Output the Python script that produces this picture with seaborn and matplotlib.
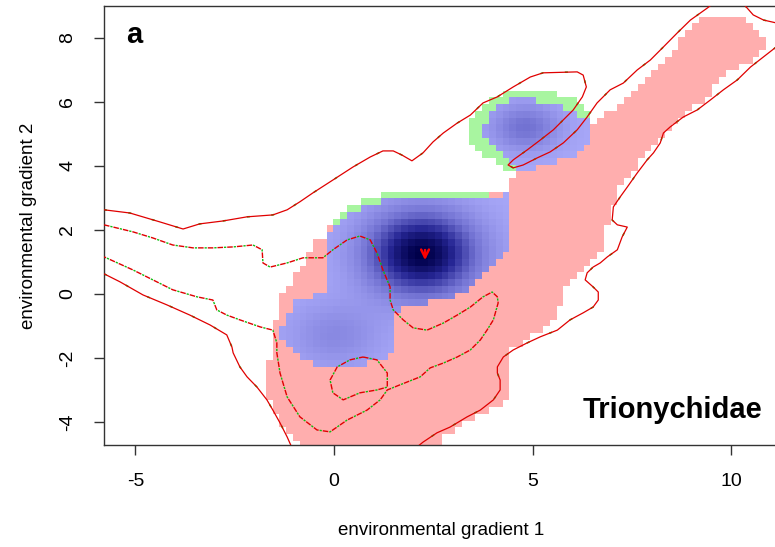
import numpy as np
import pandas as pd
import matplotlib
matplotlib.use("Agg")
import matplotlib.pyplot as plt
from matplotlib.path import Path
from matplotlib.colors import LinearSegmentedColormap, to_rgb
import seaborn as sns

# ---- niche rasters (outlines, data units) ----
pink_x = [-0.86, -1.18, -1.54, -1.69, -1.69, -1.54, -1.36, -1.18, -0.86, -0.53, -0.18, -0.03, 0.28, 1.66,
          3.68, 4.43, 4.43, 4.76, 5.62, 6.12, 6.45, 6.57, 6.95, 7.46, 7.88, 8.39, 8.79, 9.14, 10.23, 10.60,
          10.78, 10.78, 10.40, 9.80, 9.40, 8.89, 8.29, 7.78, 7.20, 6.83, 6.78, 6.32, 5.77, 5.62, 4.94, 4.48,
          4.48, 4.11, 3.43, 2.75, 2.67]
pink_y = [-4.75, -4.34, -3.72, -3.22, -2.28, -1.44, -0.09, 0.22, 0.75, 1.53, 1.91, 2.16, 2.56, 3.00,
          3.16, 3.25, 3.56, 3.81, 4.09, 4.50, 4.97, 5.50, 5.66, 6.16, 6.69, 7.31, 8.03, 8.56, 8.56, 8.31,
          8.09, 7.53, 7.22, 6.78, 6.16, 5.66, 5.03, 4.28, 3.34, 2.00, 1.38, 0.75, 0.22, -0.81, -1.38, -1.75,
          -3.09, -3.53, -3.94, -4.47, -4.75]

green1_x = [-0.15, -0.03, 0.15, 0.48, 0.83, 1.21, 1.71, 2.67, 3.93, 3.98, 2.67, 1.16, 0.28]
green1_y = [1.75, 2.19, 2.50, 2.72, 2.94, 3.09, 3.22, 3.22, 3.25, 2.90, 2.78, 2.63, 2.16]

green2_x = [3.43, 3.43, 3.68, 3.93, 4.61, 5.26, 5.77, 6.12, 6.27, 6.45, 6.50, 6.32, 6.12, 4.76, 4.51,
            4.26, 3.93, 3.68]
green2_y = [4.59, 5.44, 5.84, 6.06, 6.38, 6.38, 6.16, 5.97, 5.75, 5.53, 4.81, 4.72, 4.34, 3.81, 3.81,
            3.88, 4.19, 4.41]

blue1_x = [-0.18, 0.03, 0.28, 0.65, 1.03, 1.66, 2.67, 3.93, 4.43, 4.43, 4.26, 3.93, 3.43, 3.10, 2.42,
           1.66, 1.49, 1.49, 1.34, 0.65, -0.53, -0.68, -1.03, -1.18, -1.36, -1.36, -1.18, -1.03, -0.68,
           -0.18]
blue1_y = [1.81, 2.19, 2.50, 2.69, 2.84, 3.00, 3.00, 3.02, 3.10, 1.38, 1.28, 0.75, 0.28, -0.09, -0.25,
           -0.44, -0.59, -1.84, -1.97, -2.28, -2.28, -2.06, -1.84, -1.66, -1.22, -1.03, -0.72, -0.28,
           -0.19, 0.13]

blue2_x = [3.75, 3.75, 3.93, 4.26, 4.61, 5.26, 5.62, 5.94, 6.12, 6.50, 6.50, 6.32, 6.12, 5.77, 5.52,
           5.19, 4.76, 4.43, 4.11, 3.93]
blue2_y = [5.03, 5.19, 5.75, 5.97, 6.06, 6.00, 5.84, 5.75, 5.53, 5.50, 4.81, 4.72, 4.34, 4.19, 4.09,
           3.97, 3.81, 4.09, 4.50, 4.59]

# density peaks of the stable part (centre, spread, height)
peak_x = [2.20, 0.03, 4.81]
peak_y = [1.25, -1.28, 5.19]
peak_sx = [0.95, 0.80, 0.60]
peak_sy = [0.90, 0.70, 0.50]
peak_h = [1.00, 0.20, 0.35]

# ---- contour lines ----
s1_x = [-5.79, -5.14, -4.38, -3.80, -3.38, -2.80, -2.19, -1.54, -1.18, -0.86, -0.53, -0.03, 0.48, 0.91,
        1.23, 1.49, 1.71, 1.96, 2.24, 2.49, 2.75, 3.10, 3.43, 3.75, 4.11, 4.51, 4.94, 5.26, 6.12, 6.27,
        6.35, 6.25, 6.02, 5.77, 5.52, 5.19, 4.86, 4.51, 4.38, 4.51, 4.76, 5.11, 5.44, 5.77, 6.12, 6.37,
        6.62, 6.95, 7.28, 7.63, 7.96, 8.29, 8.64, 8.97, 9.40, 9.52]
s1_y = [2.63, 2.53, 2.25, 2.03, 2.19, 2.28, 2.41, 2.47, 2.63, 2.88, 3.16, 3.56, 3.97, 4.28,
        4.47, 4.47, 4.34, 4.16, 4.41, 4.75, 5.03, 5.34, 5.59, 5.97, 6.16, 6.47, 6.78, 6.91, 6.94, 6.84,
        6.47, 6.16, 5.75, 5.44, 5.13, 4.81, 4.50, 4.19, 4.03, 3.94, 4.03, 4.25, 4.44, 4.72, 5.13, 5.53,
        5.97, 6.38, 6.59, 7.00, 7.31, 7.72, 8.16, 8.56, 8.94, 9.06]
s2_x = [10.33, 10.55, 10.81, 11.13, 11.30]
s2_y = [9.03, 8.72, 8.56, 8.47, 8.44]
s3_x = [11.30, 11.13, 10.81, 10.48, 10.15, 9.80, 9.47, 9.14, 8.79, 8.46, 8.29, 8.21, 8.04, 7.88, 7.63,
        7.38, 7.20, 7.03, 7.00, 7.13, 7.38, 7.25, 7.13, 6.88, 6.70, 6.52, 6.37, 6.32, 6.52, 6.65, 6.65,
        6.52, 6.27, 5.94, 5.62, 5.19, 4.86, 4.51, 4.26, 4.11, 4.11, 4.18, 4.18, 4.01, 3.68, 3.35, 2.92,
        2.59, 2.24, 2.12]
s3_y = [7.64, 7.72, 7.41, 7.09, 6.69, 6.38, 6.06, 5.75, 5.53, 5.22, 5.03, 4.72, 4.41, 4.19, 3.78,
        3.34, 3.03, 2.72, 2.31, 2.16, 2.09, 1.78, 1.38, 1.16, 0.97, 0.84, 0.66, 0.44, 0.22, 0.06, -0.19,
        -0.41, -0.59, -0.81, -1.13, -1.34, -1.53, -1.75, -1.97, -2.28, -2.47, -2.69, -3.00, -3.31, -3.63,
        -3.84, -4.16, -4.34, -4.63, -4.75]
s4_x = [-5.79, -5.39, -4.81, -4.21, -3.63, -3.12, -2.70, -2.57, -2.54, -2.37, -2.19, -1.94, -1.69,
        -1.54, -1.36, -1.18, -1.08]
s4_y = [0.63, 0.38, -0.03, -0.34, -0.66, -0.97, -1.28, -1.66, -1.84, -2.28, -2.59, -2.91, -3.31,
        -3.63, -4.03, -4.47, -4.75]

d1_x = [-5.79, -5.06, -4.56, -4.06, -3.55, -3.05, -2.54, -2.04, -1.81, -1.79, -1.61, -1.18, -0.78,
        -0.28, -0.03, 0.33, 0.65, 0.91, 1.08, 1.23, 1.41, 1.41, 1.49, 1.74, 1.99, 2.34, 2.75, 3.10, 3.43,
        3.75, 3.98, 4.11, 4.13, 4.01, 3.85, 3.68, 3.43, 3.10, 2.75, 2.42, 2.17, 1.66, 1.34, 1.16, 0.83,
        0.33, -0.10, -0.43, -0.86, -1.18, -1.36, -1.44, -1.44, -1.54, -1.86, -2.37, -2.70, -2.95, -3.05,
        -3.45, -4.06, -4.56, -5.06, -5.79]
d1_y = [2.16, 1.94, 1.75, 1.53, 1.44, 1.44, 1.47, 1.53, 1.38, 0.97, 0.84, 0.97, 1.13,
        1.13, 1.38, 1.69, 1.81, 1.69, 1.28, 0.75, 0.22, -0.19, -0.50, -0.81, -1.06, -1.13, -0.91, -0.66,
        -0.41, -0.09, 0.06, -0.09, -0.28, -0.81, -1.13, -1.44, -1.75, -1.97, -2.16, -2.31, -2.59, -2.84,
        -3.00, -3.31, -3.63, -3.94, -4.31, -4.25, -3.84, -3.22, -2.47, -1.84, -1.53, -1.13, -1.03, -0.81,
        -0.66, -0.50, -0.19, -0.09, 0.13, 0.44, 0.75, 1.16]
d2_x = [0.73, 1.08, 1.34, 1.34, 1.08, 0.65, 0.23, -0.03, -0.10, 0.08, 0.40, 0.73]
d2_y = [-1.97, -2.06, -2.47, -2.91, -3.00, -3.09, -3.31, -3.09, -2.69, -2.28, -2.06, -1.97]

shift_start = (2.29, 1.46)
shift_end = (2.29, 0.97)

PINK = "#FFAEAE"
GREEN = "#A8F5A0"
RED = "#E00000"
LGREEN = "#11BB11"

sns.set_style("ticks")
plt.rcParams["font.family"] = ["Liberation Sans", "DejaVu Sans"]
plt.rcParams["axes.unicode_minus"] = False
plt.rcParams["text.color"] = "black"
plt.rcParams["axes.labelcolor"] = "black"

fig = plt.figure(figsize=(7.75, 5.47), dpi=100)
ax = fig.add_axes([0.1342, 0.1865, 0.8700, 0.8026])

# raster grid
x_edges = np.arange(-5.8, 11.4, 0.17)
y_edges = np.arange(-4.8, 9.3, 0.21)
xc = (x_edges[:-1] + x_edges[1:]) / 2
yc = (y_edges[:-1] + y_edges[1:]) / 2
gx, gy = np.meshgrid(xc, yc)
pts = np.column_stack([gx.ravel(), gy.ravel()])


def inside(px, py):
    return Path(np.column_stack([px, py])).contains_points(pts).reshape(gx.shape)


img = np.ones(gx.shape + (3,))
img[inside(pink_x, pink_y)] = to_rgb(PINK)
img[inside(green1_x, green1_y) | inside(green2_x, green2_y)] = to_rgb(GREEN)

dens = np.zeros(gx.shape)
for cx, cy, sx, sy, h in zip(peak_x, peak_y, peak_sx, peak_sy, peak_h):
    dens += h * np.exp(-((gx - cx) ** 2 / (2 * sx ** 2) + (gy - cy) ** 2 / (2 * sy ** 2)))
dens = np.clip(dens, 0, 1)
cmap = LinearSegmentedColormap.from_list(
    "stab", [(0, "#A8A8F8"), (0.35, "#7272D2"), (0.7, "#262694"), (1, "#00004A")])
blue = inside(blue1_x, blue1_y) | inside(blue2_x, blue2_y)
img[blue] = cmap(dens[blue])[:, :3]

ax.imshow(img, origin="lower", interpolation="nearest", aspect="auto",
          extent=[x_edges[0], x_edges[-1], y_edges[0], y_edges[-1]], zorder=1)

# contours: green (second niche) peeking from under red
for xs, ys in [(s1_x, s1_y), (s2_x, s2_y), (s3_x, s3_y), (s4_x, s4_y)]:
    df = pd.DataFrame({"x": xs, "y": ys})
    sns.lineplot(data=df, x="x", y="y", sort=False, estimator=None, ax=ax,
                 color=LGREEN, lw=1.1, linestyle=(0, (2, 14)), zorder=2)
    sns.lineplot(data=df, x="x", y="y", sort=False, estimator=None, ax=ax,
                 color=RED, lw=0.9, zorder=3)
for xs, ys in [(d1_x, d1_y), (d2_x, d2_y)]:
    df = pd.DataFrame({"x": xs, "y": ys})
    sns.lineplot(data=df, x="x", y="y", sort=False, estimator=None, ax=ax,
                 color=LGREEN, lw=1.0, linestyle=(2.3, (1.6, 5.4)), zorder=2)
    sns.lineplot(data=df, x="x", y="y", sort=False, estimator=None, ax=ax,
                 color=RED, lw=1.0, linestyle=(0, (4, 3)), zorder=3)

ax.annotate("", xy=shift_end, xytext=shift_start,
            arrowprops=dict(arrowstyle="->", color="red", lw=1.8, mutation_scale=14), zorder=4)

ax.set_xlim(-5.79, 11.18)
ax.set_ylim(-4.72, 9.0)
ax.set_xticks([-5, 0, 5, 10])
ax.set_yticks([-4, -2, 0, 2, 4, 6, 8])
ax.tick_params(axis="both", length=7, width=1, color="#333333", labelsize=14, pad=13,
               labelcolor="black")
ax.tick_params(axis="y", labelrotation=90)
for lab in ax.get_yticklabels():
    lab.set_va("center")
for sp in ax.spines.values():
    sp.set_color("#333333")
    sp.set_linewidth(1)
ax.spines["right"].set_visible(False)

ax.set_xlabel("environmental gradient 1", fontsize=13.5)
ax.set_ylabel("environmental gradient 2", fontsize=13.5)
ax.xaxis.set_label_coords(0.5, -0.175)
ax.yaxis.set_label_coords(-0.100, 0.5)

ax.text(0.033, 0.916, "a", transform=ax.transAxes, fontsize=21, fontweight="bold", va="baseline")
ax.text(0.976, 0.0615, "Trionychidae", transform=ax.transAxes, fontsize=21, fontweight="bold",
        ha="right", va="baseline")

fig.savefig("out.png", dpi=100)
